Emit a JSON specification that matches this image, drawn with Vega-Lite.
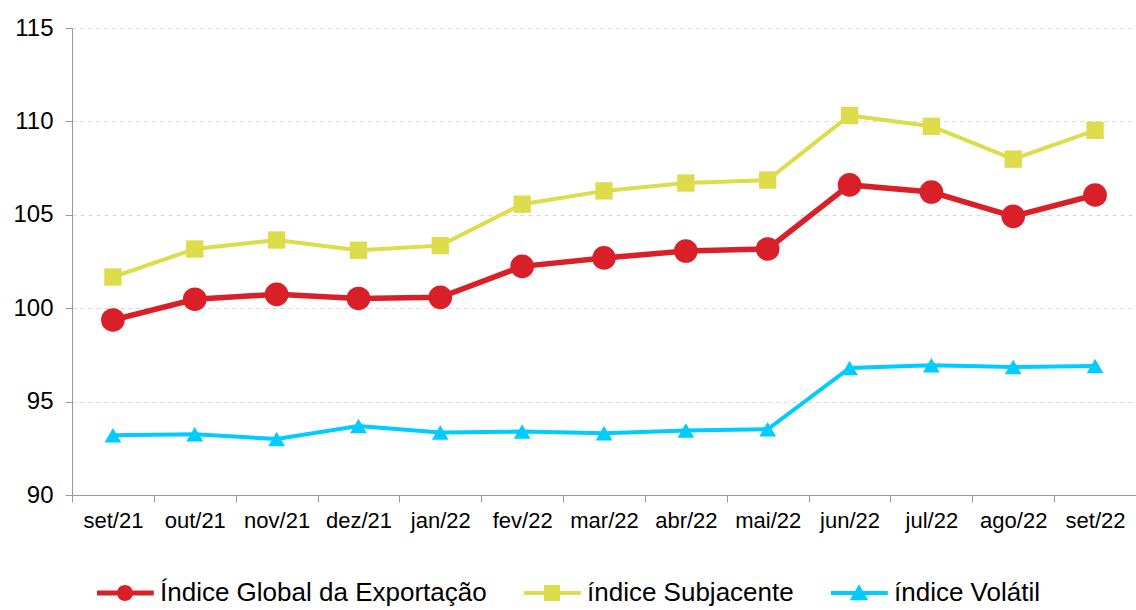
{
  "$schema": "https://vega.github.io/schema/vega-lite/v6.json",
  "autosize": "none",
  "width": 1064,
  "height": 467,
  "padding": {"left": 72, "top": 28, "right": 0, "bottom": 115},
  "background": "white",
  "config": {
    "view": {"stroke": null},
    "font": "Liberation Sans"
  },
  "data": {
    "values": [
      {"m": "set/21", "s": "Índice Global da Exportação", "v": 99.37},
      {"m": "out/21", "s": "Índice Global da Exportação", "v": 100.48},
      {"m": "nov/21", "s": "Índice Global da Exportação", "v": 100.74},
      {"m": "dez/21", "s": "Índice Global da Exportação", "v": 100.52},
      {"m": "jan/22", "s": "Índice Global da Exportação", "v": 100.58},
      {"m": "fev/22", "s": "Índice Global da Exportação", "v": 102.24},
      {"m": "mar/22", "s": "Índice Global da Exportação", "v": 102.69},
      {"m": "abr/22", "s": "Índice Global da Exportação", "v": 103.06},
      {"m": "mai/22", "s": "Índice Global da Exportação", "v": 103.17},
      {"m": "jun/22", "s": "Índice Global da Exportação", "v": 106.6},
      {"m": "jul/22", "s": "Índice Global da Exportação", "v": 106.22},
      {"m": "ago/22", "s": "Índice Global da Exportação", "v": 104.92},
      {"m": "set/22", "s": "Índice Global da Exportação", "v": 106.06},
      {"m": "set/21", "s": "índice Subjacente", "v": 101.67},
      {"m": "out/21", "s": "índice Subjacente", "v": 103.17},
      {"m": "nov/21", "s": "índice Subjacente", "v": 103.65},
      {"m": "dez/21", "s": "índice Subjacente", "v": 103.1},
      {"m": "jan/22", "s": "índice Subjacente", "v": 103.35},
      {"m": "fev/22", "s": "índice Subjacente", "v": 105.57},
      {"m": "mar/22", "s": "índice Subjacente", "v": 106.28},
      {"m": "abr/22", "s": "índice Subjacente", "v": 106.7},
      {"m": "mai/22", "s": "índice Subjacente", "v": 106.86},
      {"m": "jun/22", "s": "índice Subjacente", "v": 110.32},
      {"m": "jul/22", "s": "índice Subjacente", "v": 109.74},
      {"m": "ago/22", "s": "índice Subjacente", "v": 107.98},
      {"m": "set/22", "s": "índice Subjacente", "v": 109.52},
      {"m": "set/21", "s": "índice Volátil", "v": 93.2},
      {"m": "out/21", "s": "índice Volátil", "v": 93.25},
      {"m": "nov/21", "s": "índice Volátil", "v": 93.0},
      {"m": "dez/21", "s": "índice Volátil", "v": 93.69},
      {"m": "jan/22", "s": "índice Volátil", "v": 93.35},
      {"m": "fev/22", "s": "índice Volátil", "v": 93.4},
      {"m": "mar/22", "s": "índice Volátil", "v": 93.3},
      {"m": "abr/22", "s": "índice Volátil", "v": 93.45},
      {"m": "mai/22", "s": "índice Volátil", "v": 93.52},
      {"m": "jun/22", "s": "índice Volátil", "v": 96.8},
      {"m": "jul/22", "s": "índice Volátil", "v": 96.95},
      {"m": "ago/22", "s": "índice Volátil", "v": 96.85},
      {"m": "set/22", "s": "índice Volátil", "v": 96.9}
    ]
  },
  "encoding": {
    "x": {
      "field": "m",
      "type": "ordinal",
      "sort": null,
      "scale": {"type": "band", "paddingInner": 0, "paddingOuter": 0},
      "axis": {
        "title": null,
        "labelAngle": 0,
        "labelFontSize": 22,
        "labelColor": "#000000",
        "labelPadding": 8,
        "tickBand": "extent",
        "tickSize": 7,
        "tickColor": "#999999",
        "domainColor": "#999999",
        "grid": false
      }
    },
    "y": {
      "field": "v",
      "type": "quantitative",
      "scale": {"domain": [90, 115], "nice": false, "zero": false},
      "axis": {
        "title": null,
        "values": [90, 95, 100, 105, 110, 115],
        "labelFontSize": 24,
        "labelColor": "#000000",
        "labelPadding": 12,
        "tickSize": 7,
        "tickColor": "#999999",
        "domainColor": "#999999",
        "gridColor": "#d9d9d9",
        "gridDash": [4, 4],
        "gridWidth": 1
      }
    },
    "color": {
      "field": "s",
      "type": "nominal",
      "scale": {
        "domain": ["Índice Global da Exportação", "índice Subjacente", "índice Volátil"],
        "range": ["#d92028", "#dddc4a", "#00ccff"]
      },
      "legend": {
        "title": null,
        "orient": "none",
        "direction": "horizontal",
        "legendX": 40,
        "legendY": 552,
        "padding": 0,
        "labelFontSize": 26,
        "labelColor": "#000000",
        "labelOffset": 22,
        "symbolSize": 256,
        "symbolOpacity": 1,
        "symbolStrokeWidth": 0,
        "columnPadding": 37,
        "labelLimit": 500
      }
    }
  },
  "layer": [
    {
      "mark": {"type": "line", "strokeWidth": 5.5},
      "transform": [{"filter": "datum.s === 'Índice Global da Exportação'"}]
    },
    {
      "mark": {"type": "line", "strokeWidth": 4},
      "transform": [{"filter": "datum.s !== 'Índice Global da Exportação'"}]
    },
    {
      "mark": {"type": "point", "shape": "circle", "filled": true, "opacity": 1, "size": 560},
      "transform": [{"filter": "datum.s === 'Índice Global da Exportação'"}]
    },
    {
      "mark": {"type": "point", "shape": "square", "filled": true, "opacity": 1, "size": 300},
      "transform": [{"filter": "datum.s === 'índice Subjacente'"}]
    },
    {
      "mark": {"type": "point", "shape": "triangle-up", "filled": true, "opacity": 1, "size": 280},
      "transform": [{"filter": "datum.s === 'índice Volátil'"}]
    },
    {
      "mark": {"type": "point", "filled": true, "opacity": 1},
      "transform": [{"filter": "datum.v < 0"}],
      "encoding": {
        "shape": {
          "field": "s",
          "type": "nominal",
          "scale": {
            "domain": ["Índice Global da Exportação", "índice Subjacente", "índice Volátil"],
            "range": [
              "M-3.5,-0.32H3.6V0.32H-3.5Z M-1,0A1,1,0,1,1,1,0A1,1,0,1,1,-1,0Z",
              "M-3.5,-0.25H3.6V0.25H-3.5Z M-1,-1H1V1H-1Z",
              "M-3.5,-0.25H3.6V0.25H-3.5Z M0,-1.1L1.15,0.9H-1.15Z"
            ]
          }
        }
      }
    }
  ]
}
